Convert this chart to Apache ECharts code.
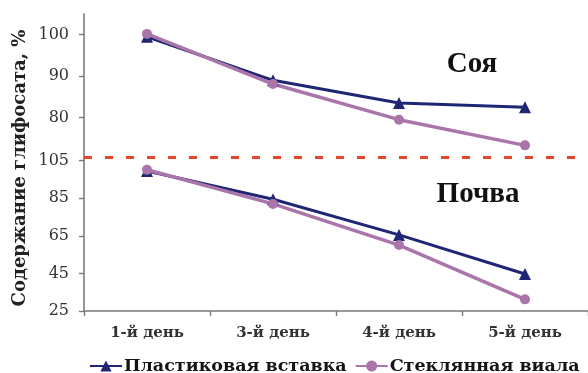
<!DOCTYPE html>
<html>
<head>
<meta charset="utf-8">
<script src="https://cdn.jsdelivr.net/npm/echarts@6/dist/echarts.min.js"></script>
<style>
  html, body { margin: 0; padding: 0; background: #fff; }
  #chart { width: 588px; height: 373px; }
</style>
</head>
<body>
<div id="chart"></div>
<script>
// Days of measurement
const days = ['1-й день', '3-й день', '4-й день', '5-й день'];

// Glyphosate content, % — soybean
const soyPlastic = [99.5, 89.0, 83.5, 82.5];
const soyGlass = [100.2, 88.1, 79.5, 73.3];

// Glyphosate content, % — soil
const soilPlastic = [99.5, 84.5, 65.5, 44.7];
const soilGlass = [100.2, 82.0, 60.1, 31.2];

// Tick labels of the two value axes
const soyTicks = [80, 90, 100];
const soilTicks = [25, 45, 65, 85, 105];

// Level of the dashed divider between the two panels (upper scale)
const dividerLevel = 70.5;

const seriesNames = ['Пластиковая вставка', 'Стеклянная виала'];
const navy = '#1f2673';
const mauve = '#a975aa';
const serif = '"DejaVu Serif", "Liberation Serif", serif';
const times = '"Liberation Serif", serif';

const chart = echarts.init(document.getElementById('chart'));

const valueAxisCommon = {
  type: 'value',
  axisLine: { show: true, lineStyle: { color: '#7a7a7a', width: 1.6 } },
  axisTick: { show: true, inside: false, length: 5, lineStyle: { color: '#7a7a7a', width: 1.4 } },
  splitLine: { show: false },
  axisLabel: { fontFamily: serif, fontSize: 16, color: '#333', margin: 15 }
};

chart.setOption({
  animation: false,
  backgroundColor: '#fff',
  grid: [
    { left: 84, right: -6, top: 14, height: 146.7 },
    { left: 84, right: -6, top: 160.7, height: 150.3 }
  ],
  xAxis: [
    {
      gridIndex: 0, type: 'category', data: days,
      axisLine: { show: false }, axisTick: { show: false }, axisLabel: { show: false }
    },
    {
      gridIndex: 1, type: 'category', data: days,
      axisLine: { show: true, lineStyle: { color: '#7a7a7a', width: 1.6 } },
      axisTick: { show: true, inside: false, length: 5, lineStyle: { color: '#7a7a7a', width: 1.4 } },
      axisLabel: { fontFamily: serif, fontSize: 15, fontWeight: 'bold', color: '#333', margin: 15 }
    }
  ],
  yAxis: [
    Object.assign({}, valueAxisCommon, {
      gridIndex: 0, min: 69.6, max: 105,
      axisTick: Object.assign({}, valueAxisCommon.axisTick, { customValues: soyTicks }),
      axisLabel: Object.assign({}, valueAxisCommon.axisLabel, { customValues: soyTicks })
    }),
    Object.assign({}, valueAxisCommon, {
      gridIndex: 1, min: 25, max: 105,
      axisTick: Object.assign({}, valueAxisCommon.axisTick, { customValues: soilTicks }),
      axisLabel: Object.assign({}, valueAxisCommon.axisLabel, { customValues: soilTicks })
    })
  ],
  legend: {
    data: seriesNames,
    left: 84, top: 352,
    itemWidth: 32, itemHeight: 14, itemGap: 8,
    textStyle: { fontFamily: serif, fontSize: 17.5, fontWeight: 'bold', color: '#151515', padding: [0, 0, 0, -3] }
  },
  series: [
    {
      name: seriesNames[0], type: 'line', xAxisIndex: 0, yAxisIndex: 0, data: soyPlastic,
      symbol: 'triangle', symbolSize: 12,
      itemStyle: { color: navy }, lineStyle: { color: navy, width: 3 },
      markLine: {
        silent: true, symbol: 'none', label: { show: false },
        lineStyle: { color: '#e8452c', width: 3, type: [8, 13] },
        data: [{ yAxis: dividerLevel }]
      }
    },
    {
      name: seriesNames[1], type: 'line', xAxisIndex: 0, yAxisIndex: 0, data: soyGlass,
      symbol: 'circle', symbolSize: 10,
      itemStyle: { color: mauve }, lineStyle: { color: mauve, width: 3.5 }
    },
    {
      name: seriesNames[0], type: 'line', xAxisIndex: 1, yAxisIndex: 1, data: soilPlastic,
      symbol: 'triangle', symbolSize: 12,
      itemStyle: { color: navy }, lineStyle: { color: navy, width: 3 }
    },
    {
      name: seriesNames[1], type: 'line', xAxisIndex: 1, yAxisIndex: 1, data: soilGlass,
      symbol: 'circle', symbolSize: 10,
      itemStyle: { color: mauve }, lineStyle: { color: mauve, width: 3.5 }
    }
  ],
  graphic: [
    {
      type: 'text', x: 20, y: 168, rotation: Math.PI / 2,
      style: {
        text: 'Содержание глифосата, %', fontFamily: serif, fontSize: 18, fontWeight: 'bold',
        fill: '#222', align: 'center', verticalAlign: 'middle'
      }
    },
    {
      type: 'text', x: 472, y: 65,
      style: { text: 'Соя', fontFamily: times, fontSize: 29, fontWeight: 'bold', fill: '#111', align: 'center', verticalAlign: 'middle' }
    },
    {
      type: 'text', x: 478, y: 195,
      style: { text: 'Почва', fontFamily: times, fontSize: 29, fontWeight: 'bold', fill: '#111', align: 'center', verticalAlign: 'middle' }
    }
  ]
});
</script>
</body>
</html>
